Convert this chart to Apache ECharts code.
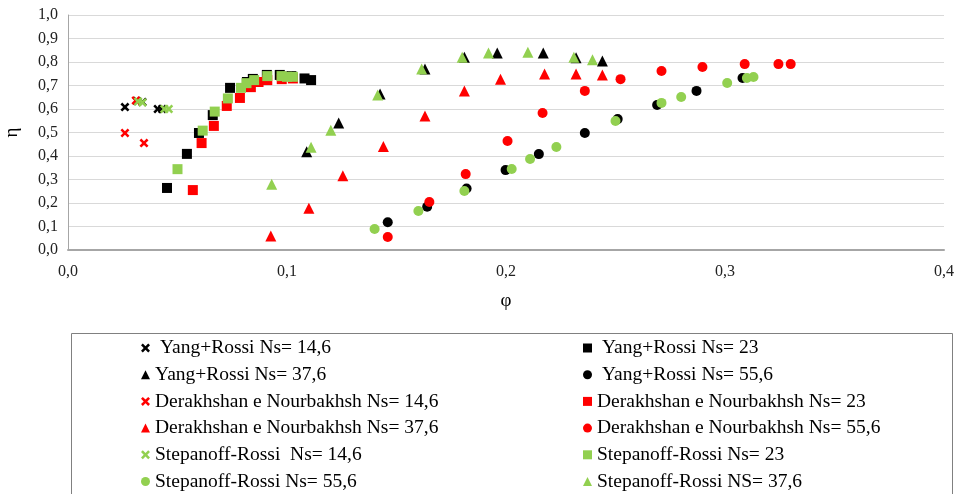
<!DOCTYPE html>
<html>
<head>
<meta charset="utf-8">
<script src="https://cdn.jsdelivr.net/npm/echarts@6/dist/echarts.min.js"></script>
<style>
  html, body { margin: 0; padding: 0; background: #fff; }
  #chart { width: 959px; height: 494px; }
</style>
</head>
<body>
<div id="chart"></div>
<script>
// axis ticks
const xTicks = [0, 0.1, 0.2, 0.3, 0.4]
const yTicks = [0, 0.1, 0.2, 0.3, 0.4, 0.5, 0.6, 0.7, 0.8, 0.9, 1.0]

// data: [phi, eta]
const yang146 = [[0.026, 0.608], [0.0315, 0.634], [0.034, 0.63], [0.041, 0.60], [0.043, 0.60]]
const yang23 = [[0.0452, 0.264], [0.0543, 0.409], [0.0598, 0.498], [0.0661, 0.574], [0.074, 0.69], [0.0817, 0.715],
  [0.0844, 0.728], [0.0908, 0.745], [0.0967, 0.745], [0.102, 0.74], [0.108, 0.73], [0.111, 0.723]]
const yang376 = [[0.109, 0.418], [0.1236, 0.54], [0.1425, 0.664], [0.163, 0.77], [0.181, 0.82], [0.196, 0.838],
  [0.217, 0.838], [0.232, 0.818], [0.244, 0.804]]
const yang556 = [[0.146, 0.118], [0.164, 0.184], [0.182, 0.262], [0.1998, 0.34], [0.215, 0.408], [0.236, 0.498],
  [0.251, 0.557], [0.269, 0.617], [0.287, 0.677], [0.308, 0.732]]

const dera146 = [[0.026, 0.498], [0.031, 0.636], [0.0347, 0.455]]
const dera23 = [[0.057, 0.255], [0.061, 0.455], [0.0666, 0.528], [0.0725, 0.613], [0.0785, 0.647], [0.0835, 0.693],
  [0.087, 0.715], [0.091, 0.723], [0.0976, 0.727], [0.1027, 0.73]]
const dera376 = [[0.0926, 0.06], [0.11, 0.178], [0.1255, 0.316], [0.144, 0.44], [0.163, 0.57], [0.181, 0.677],
  [0.1975, 0.727], [0.2176, 0.749], [0.232, 0.749], [0.244, 0.745]]
const dera556 = [[0.146, 0.055], [0.165, 0.204], [0.1816, 0.323], [0.2007, 0.464], [0.2167, 0.583], [0.236, 0.677],
  [0.2523, 0.727], [0.271, 0.762], [0.2897, 0.779], [0.309, 0.791], [0.3244, 0.791], [0.33, 0.791]]

const step146 = [[0.032, 0.632], [0.034, 0.628], [0.044, 0.60], [0.046, 0.60]]
const step23 = [[0.050, 0.344], [0.0615, 0.508], [0.067, 0.589], [0.073, 0.645], [0.079, 0.69], [0.0815, 0.71],
  [0.085, 0.723], [0.091, 0.74], [0.0975, 0.74], [0.100, 0.737], [0.1027, 0.737]]
const step376 = [[0.093, 0.28], [0.111, 0.437], [0.12, 0.51], [0.1414, 0.66], [0.1615, 0.77], [0.180, 0.82],
  [0.192, 0.838], [0.21, 0.842], [0.231, 0.82], [0.2395, 0.81]]
const step556 = [[0.14, 0.089], [0.160, 0.166], [0.181, 0.251], [0.2026, 0.345], [0.211, 0.387], [0.223, 0.438],
  [0.25, 0.549], [0.271, 0.626], [0.28, 0.651], [0.301, 0.711], [0.31, 0.732], [0.313, 0.736]]

const BLACK = '#000000'
const RED = '#ff0000'
const GREEN = '#92d050'
const CROSS = 'path://M0,2 L2,0 L5,3 L8,0 L10,2 L7,5 L10,8 L8,10 L5,7 L2,10 L0,8 L3,5 Z'
const FONT = '"Liberation Serif", "DejaVu Serif", serif'

const fmt = v => v.toFixed(1).replace('.', ',')

function mk(name, data, color, symbol, size) {
  return {
    name: name,
    type: 'scatter',
    data: data,
    symbol: symbol,
    symbolSize: size,
    itemStyle: { color: color, opacity: 1 },
    emphasis: { disabled: true }
  }
}

const leftNames = [' Yang+Rossi Ns= 14,6', 'Yang+Rossi Ns= 37,6', 'Derakhshan e Nourbakhsh Ns= 14,6',
  'Derakhshan e Nourbakhsh Ns= 37,6', 'Stepanoff-Rossi  Ns= 14,6', 'Stepanoff-Rossi Ns= 55,6']
const rightNames = [' Yang+Rossi Ns= 23', ' Yang+Rossi Ns= 55,6', 'Derakhshan e Nourbakhsh Ns= 23',
  'Derakhshan e Nourbakhsh Ns= 55,6', 'Stepanoff-Rossi Ns= 23', 'Stepanoff-Rossi NS= 37,6']

const chart = echarts.init(document.getElementById('chart'))

const legendBase = {
  orient: 'vertical',
  top: 338,
  height: 220,
  padding: 0,
  itemWidth: 9,
  itemHeight: 9,
  itemGap: 6.7,
  textStyle: { fontFamily: FONT, fontSize: 19.5, color: '#000', lineHeight: 20 },
  selectedMode: false
}

chart.setOption({
  animation: false,
  backgroundColor: '#fff',
  grid: { left: 68, right: 15, top: 15, bottom: 244, outerBoundsMode: 'none', containLabel: false },
  xAxis: {
    type: 'value',
    min: xTicks[0],
    max: xTicks[xTicks.length - 1],
    interval: 0.1,
    name: 'φ',
    nameLocation: 'middle',
    nameGap: 42,
    nameTextStyle: { fontFamily: FONT, fontSize: 19, color: '#000' },
    axisLine: { lineStyle: { color: '#a6a6a6', width: 2 } },
    axisTick: { show: false },
    splitLine: { show: false },
    axisLabel: { formatter: fmt, fontFamily: FONT, fontSize: 16, color: '#222', margin: 14 }
  },
  yAxis: {
    type: 'value',
    min: yTicks[0],
    max: yTicks[yTicks.length - 1],
    interval: 0.1,
    name: 'η',
    nameLocation: 'middle',
    nameGap: 46,
    nameRotate: 90,
    nameTextStyle: { fontFamily: FONT, fontSize: 19, color: '#000' },
    axisLine: { show: true, lineStyle: { color: '#a6a6a6', width: 1 } },
    axisTick: { show: false },
    splitLine: { lineStyle: { color: '#d9d9d9', width: 1 } },
    axisLabel: { formatter: fmt, fontFamily: FONT, fontSize: 16, color: '#222', margin: 10 }
  },
  graphic: [{
    type: 'rect',
    shape: { x: 71.5, y: 333.5, width: 881, height: 170 },
    style: { fill: 'none', stroke: '#808080', lineWidth: 1 },
    silent: true
  }],
  legend: [
    Object.assign({}, legendBase, { left: 141, data: leftNames }),
    Object.assign({}, legendBase, { left: 583, data: rightNames })
  ],
  series: [
    mk(leftNames[0], yang146, BLACK, CROSS, 9),
    mk(rightNames[0], yang23, BLACK, 'rect', 10),
    mk(leftNames[1], yang376, BLACK, 'triangle', 11),
    mk(rightNames[1], yang556, BLACK, 'circle', 10),
    mk(leftNames[2], dera146, RED, CROSS, 9),
    mk(rightNames[2], dera23, RED, 'rect', 10),
    mk(leftNames[3], dera376, RED, 'triangle', 11),
    mk(rightNames[3], dera556, RED, 'circle', 10),
    mk(leftNames[4], step146, GREEN, CROSS, 9),
    mk(rightNames[4], step23, GREEN, 'rect', 10),
    mk(rightNames[5], step376, GREEN, 'triangle', 11),
    mk(leftNames[5], step556, GREEN, 'circle', 10)
  ]
})
</script>
</body>
</html>
